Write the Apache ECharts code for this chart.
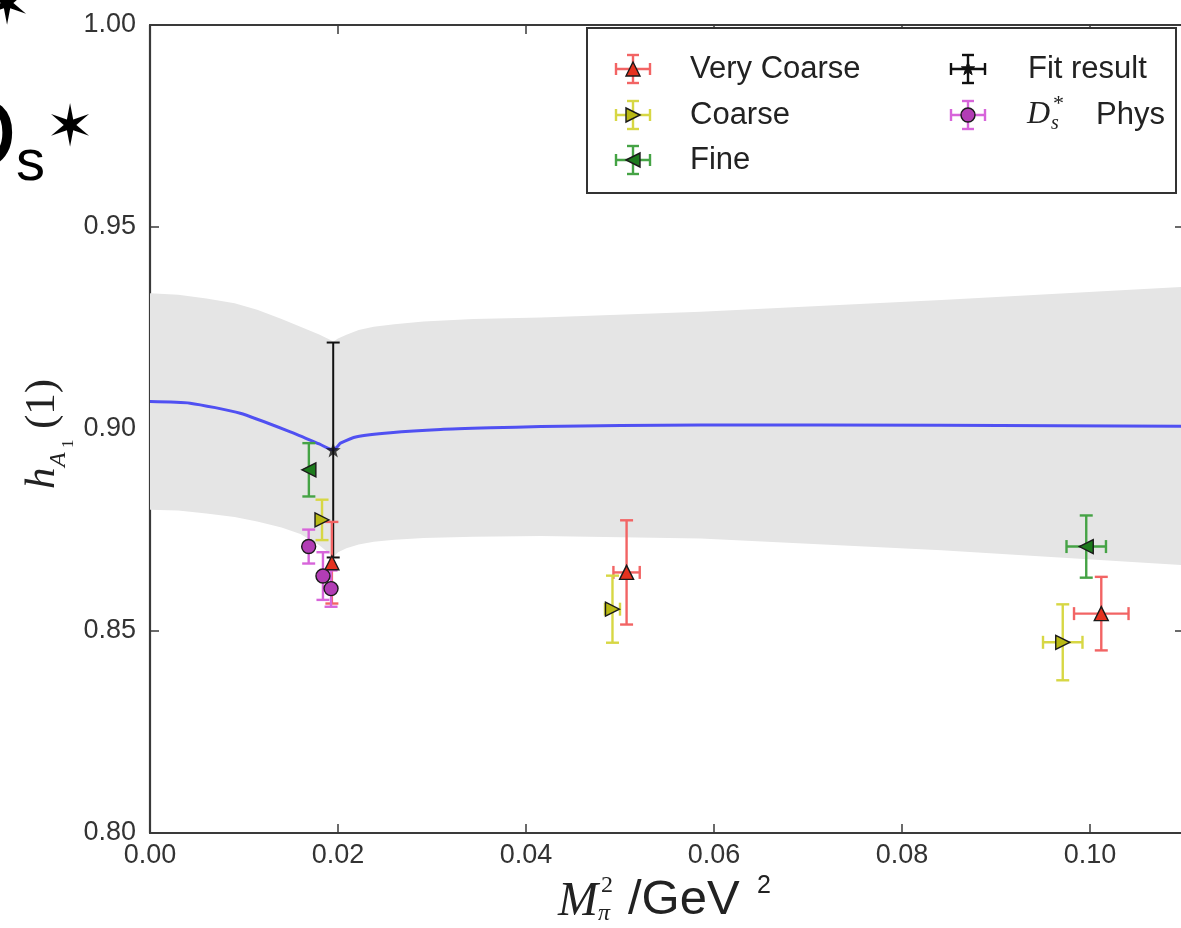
<!DOCTYPE html>
<html><head><meta charset="utf-8">
<script src="https://cdn.jsdelivr.net/npm/echarts@6/dist/echarts.min.js"></script>
<style>html,body{margin:0;padding:0;background:#fff;overflow:hidden}#c{width:1181px;height:928px}</style>
</head><body><div id="c"></div>
<script>
// ---------------- data ----------------
const xTickValues = [0.00, 0.02, 0.04, 0.06, 0.08, 0.10];
const yTickValues = [0.80, 0.85, 0.90, 0.95, 1.00];

// fit curve (blue)
const curveX = [0, 0.00426, 0.00959, 0.01493, 0.0180, 0.01949, 0.0200, 0.02026, 0.0220, 0.02559, 0.03092, 0.03625, 0.04158, 0.0586, 0.0842, 0.11];
const curveY = [0.9068, 0.9064, 0.9039, 0.8993, 0.8963, 0.8948, 0.8958, 0.8965, 0.8981, 0.8991, 0.8999, 0.9003, 0.9006, 0.9010, 0.9009, 0.9007];

// error band (grey)
const bandX     = [0, 0.0030, 0.0060, 0.0090, 0.0114, 0.0140, 0.0160, 0.0180, 0.0192, 0.01949, 0.0200, 0.0209, 0.0222, 0.0238, 0.0260, 0.0291, 0.0344, 0.0416, 0.0586, 0.0842, 0.11];
const bandUpper = [0.9336, 0.9332, 0.9323, 0.9311, 0.9295, 0.9272, 0.9253, 0.9234, 0.9220, 0.9216, 0.9224, 0.9233, 0.9245, 0.9253, 0.9259, 0.9266, 0.9272, 0.9276, 0.9290, 0.9319, 0.9352];
const bandLower = [0.8800, 0.8798, 0.8791, 0.8782, 0.8771, 0.8756, 0.8740, 0.8712, 0.8690, 0.8682, 0.8695, 0.8705, 0.8714, 0.8721, 0.8726, 0.8730, 0.8733, 0.8735, 0.8729, 0.8700, 0.8663];

// Very Coarse
const veryCoarseX    = [0.01935, 0.0507, 0.1012];
const veryCoarseY    = [0.8669, 0.8645, 0.8543];
const veryCoarseXErr = [0, 0.0014, 0.0029];
const veryCoarseYErr = [0.0101, 0.0129, 0.0091];
// Coarse
const coarseX    = [0.0183, 0.0492, 0.0971];
const coarseY    = [0.8775, 0.8554, 0.8472];
const coarseXErr = [0, 0.0008, 0.0021];
const coarseYErr = [0.0050, 0.0083, 0.0094];
// Fine
const fineX    = [0.0169, 0.0996];
const fineY    = [0.8899, 0.8709];
const fineXErr = [0, 0.0021];
const fineYErr = [0.0066, 0.0077];
// D_s* Phys
const physX    = [0.01688, 0.0184, 0.01926];
const physY    = [0.8709, 0.8636, 0.8605];
const physXErr = [0, 0, 0];
const physYErr = [0.0042, 0.0059, 0.0045];
// Fit result
const fitX    = [0.01949];
const fitY    = [0.8948];
const fitXErr = [0];
const fitYErr = [0.0266];

// ---------------- helpers ----------------
const AX = '#3a3a3a';
function zip4(x, y, ex, ey) { return x.map((v, i) => [v, y[i], ex[i], ey[i]]); }
function zip2(x, y) { return x.map((v, i) => [v, y[i]]); }

function errSeries(name, data, color, lw) {
  return {
    type: 'custom', name: name, z: 3, silent: true,
    dimensions: ['x', 'y', 'ex', 'ey'], encode: { x: 0, y: 1 },
    data: data,
    renderItem: function (params, api) {
      const x = api.value(0), y = api.value(1), ex = api.value(2), ey = api.value(3);
      const c = api.coord([x, y]);
      const t = api.coord([x, y + ey]), b = api.coord([x, y - ey]);
      const cap = 6.5;
      const st = { stroke: color, lineWidth: lw || 2.4 };
      const ch = [
        { type: 'line', shape: { x1: c[0], y1: t[1], x2: c[0], y2: b[1] }, style: st },
        { type: 'line', shape: { x1: c[0] - cap, y1: t[1], x2: c[0] + cap, y2: t[1] }, style: st },
        { type: 'line', shape: { x1: c[0] - cap, y1: b[1], x2: c[0] + cap, y2: b[1] }, style: st }
      ];
      if (ex > 0) {
        const l = api.coord([x - ex, y]), r = api.coord([x + ex, y]);
        ch.push({ type: 'line', shape: { x1: l[0], y1: c[1], x2: r[0], y2: c[1] }, style: st });
        ch.push({ type: 'line', shape: { x1: l[0], y1: c[1] - cap, x2: l[0], y2: c[1] + cap }, style: st });
        ch.push({ type: 'line', shape: { x1: r[0], y1: c[1] - cap, x2: r[0], y2: c[1] + cap }, style: st });
      }
      return { type: 'group', children: ch };
    }
  };
}
const STAR = 'path://M0,-10 L2.35,-3.24 L9.51,-3.09 L3.8,1.24 L5.88,8.09 L0,4 L-5.88,8.09 L-3.8,1.24 L-9.51,-3.09 L-2.35,-3.24 Z';
function markerSeries(name, data, symbol, rot, fill, size) {
  return {
    type: 'scatter', name: name, z: 4, silent: true,
    data: data, symbol: symbol, symbolRotate: rot, symbolSize: size || 14,
    itemStyle: { color: fill, borderColor: '#1a1a1a', borderWidth: 1.4, opacity: 1 }
  };
}

const C = {
  vcBar: '#f26464', vcFill: '#e5321f',
  cBar: '#d7d744', cFill: '#b9b914',
  fBar: '#45a345', fFill: '#1c7a1c',
  pBar: '#d765da', pFill: '#b23db5',
  fit: '#111111'
};

// ---------------- legend / titles as graphic ----------------
function mk(type, cx, cy, s, fill) {
  const h = s / 2;
  const st = { fill: fill, stroke: '#1a1a1a', lineWidth: 1.4 };
  if (type === 'up') return { type: 'polygon', shape: { points: [[cx, cy - h], [cx + h, cy + h], [cx - h, cy + h]] }, style: st };
  if (type === 'right') return { type: 'polygon', shape: { points: [[cx + h, cy], [cx - h, cy - h], [cx - h, cy + h]] }, style: st };
  if (type === 'left') return { type: 'polygon', shape: { points: [[cx - h, cy], [cx + h, cy - h], [cx + h, cy + h]] }, style: st };
  if (type === 'circle') return { type: 'circle', shape: { cx: cx, cy: cy, r: h }, style: st };
  const pts = [];
  for (let i = 0; i < 10; i++) {
    const a = -Math.PI / 2 + i * Math.PI / 5, r = (i % 2 ? 0.4 : 1) * h;
    pts.push([cx + r * Math.cos(a), cy + r * Math.sin(a)]);
  }
  return { type: 'polygon', shape: { points: pts }, style: { fill: fill, stroke: fill, lineWidth: 1 } };
}
function legendIcon(cx, cy, bar, type, fill) {
  const hw = 17, hh = 14, cap = 6;
  const st = { stroke: bar, lineWidth: 2.4 };
  return [
    { type: 'line', shape: { x1: cx - hw, y1: cy, x2: cx + hw, y2: cy }, style: st },
    { type: 'line', shape: { x1: cx - hw, y1: cy - cap, x2: cx - hw, y2: cy + cap }, style: st },
    { type: 'line', shape: { x1: cx + hw, y1: cy - cap, x2: cx + hw, y2: cy + cap }, style: st },
    { type: 'line', shape: { x1: cx, y1: cy - hh, x2: cx, y2: cy + hh }, style: st },
    { type: 'line', shape: { x1: cx - cap, y1: cy - hh, x2: cx + cap, y2: cy - hh }, style: st },
    { type: 'line', shape: { x1: cx - cap, y1: cy + hh, x2: cx + cap, y2: cy + hh }, style: st },
    mk(type, cx, cy, 14, fill)
  ];
}
function txt(x, y, text, font, fill, align) {
  return { type: 'text', x: x, y: y, style: { text: text, font: font, fill: fill || '#222', align: align || 'left', verticalAlign: 'middle', textAlign: align || 'left', textVerticalAlign: 'middle' } };
}
function withZ(arr, z) { arr.forEach(e => { e.z = z; }); return arr; }
const SANS = '"Liberation Sans", Arial, sans-serif';
const SERIF = '"Liberation Serif", "DejaVu Serif", serif';
const LF = '31px ' + SANS;

const legendItems = withZ([].concat(
  legendIcon(633, 69, C.vcBar, 'up', C.vcFill),
  legendIcon(633, 115, C.cBar, 'right', C.cFill),
  legendIcon(633, 160, C.fBar, 'left', C.fFill),
  legendIcon(968, 69, C.fit, 'star', C.fit),
  legendIcon(968, 115, C.pBar, 'circle', C.pFill),
  [
    txt(690, 69, 'Very Coarse', LF),
    txt(690, 115, 'Coarse', LF),
    txt(690, 160, 'Fine', LF),
    txt(1028, 69, 'Fit result', LF),
    txt(1027, 115, 'D', 'italic 32px ' + SERIF),
    txt(1051, 124, 's', 'italic 20px ' + SERIF),
    txt(1053, 104, '*', '22px ' + SERIF),
    txt(1096, 115, 'Phys', LF)
  ]), 20);

const graphic = [
  // decorative slide fragments at top-left
  txt(17, 140, 'D', '104px ' + SANS, '#000', 'right'),
  txt(16, 164, 's', '58px ' + SANS, '#000'),
  txt(70, 131, '\u2736', '58px "DejaVu Sans"', '#000', 'center'),
  txt(7, 9, '\u2736', '58px "DejaVu Sans"', '#000', 'center'),
  // legend box
  { type: 'rect', z: 10, shape: { x: 587, y: 28, width: 589, height: 165 }, style: { fill: '#fff', stroke: '#333', lineWidth: 2 } }
].concat(legendItems).concat([
  // x-axis title
  txt(558, 902, 'M', 'italic 48px ' + SERIF, '#222'),
  txt(601, 886, '2', '24px ' + SERIF, '#222'),
  txt(598, 914, '\u03c0', 'italic 24px ' + SERIF, '#222'),
  txt(628, 900, '/GeV', '49px ' + SANS, '#222'),
  txt(757, 886, '2', '25px ' + SANS, '#222'),
  // y-axis title (rotated)
  { type: 'group', x: 46, y: 433, rotation: Math.PI / 2, children: [
      txt(-56, -3, 'h', 'italic 43px ' + SERIF, '#222'),
      txt(-34, 13, 'A', 'italic 24px ' + SERIF, '#222'),
      txt(-15, 23, '1', '17px ' + SERIF, '#222'),
      txt(4, -3, '(1)', '43px ' + SERIF, '#222')
  ] }
]);

// ---------------- chart ----------------
const chart = echarts.init(document.getElementById('c'), null, { renderer: 'canvas' });
const xAxisBase = {
  type: 'value', min: xTickValues[0], max: 0.11, interval: 0.02,
  axisLine: { show: true, onZero: false, lineStyle: { color: AX, width: 2.2 } },
  axisTick: { show: true, inside: true, length: 9, lineStyle: { color: AX, width: 1.5 } },
  splitLine: { show: false }
};
const yAxisBase = {
  type: 'value', min: yTickValues[0], max: yTickValues[yTickValues.length - 1], interval: 0.05,
  axisLine: { show: true, onZero: false, lineStyle: { color: AX, width: 2.2 } },
  axisTick: { show: true, inside: true, length: 9, lineStyle: { color: AX, width: 1.5 } },
  splitLine: { show: false }
};
const option = {
  animation: false,
  backgroundColor: '#fff',
  grid: { left: 150, top: 25, width: 1034, height: 808, outerBoundsMode: 'none', containLabel: false },
  xAxis: [
    Object.assign({}, xAxisBase, { position: 'bottom',
      axisLabel: { fontFamily: SANS, fontSize: 27, color: '#333', margin: 9,
        formatter: v => (xTickValues.some(t => Math.abs(t - v) < 1e-9) ? v.toFixed(2) : '') } }),
    Object.assign({}, xAxisBase, { position: 'top', axisLabel: { show: false } })
  ],
  yAxis: [
    Object.assign({}, yAxisBase, { position: 'left',
      axisLabel: { fontFamily: SANS, fontSize: 27, color: '#333', margin: 14, formatter: v => v.toFixed(2) } }),
    Object.assign({}, yAxisBase, { position: 'right', axisLabel: { show: false } })
  ],
  graphic: graphic,
  series: [
    {
      type: 'custom', name: 'band', z: 1, silent: true,
      data: [[bandX[0], bandLower[0]]], encode: { x: 0, y: 1 },
      renderItem: function (params, api) {
        const pts = [];
        for (let i = 0; i < bandX.length; i++) pts.push(api.coord([bandX[i], bandUpper[i]]));
        for (let i = bandX.length - 1; i >= 0; i--) pts.push(api.coord([bandX[i], bandLower[i]]));
        return { type: 'polygon', shape: { points: pts }, style: { fill: '#e5e5e5' } };
      }
    },
    {
      type: 'line', name: 'fit curve', z: 2, silent: true, showSymbol: false, smooth: 0.2,
      data: zip2(curveX, curveY), lineStyle: { color: '#5050f2', width: 3 }
    },
    errSeries('Fit result err', zip4(fitX, fitY, fitXErr, fitYErr), C.fit, 2),
    errSeries('Very Coarse err', zip4(veryCoarseX, veryCoarseY, veryCoarseXErr, veryCoarseYErr), C.vcBar),
    errSeries('Coarse err', zip4(coarseX, coarseY, coarseXErr, coarseYErr), C.cBar),
    errSeries('Fine err', zip4(fineX, fineY, fineXErr, fineYErr), C.fBar),
    errSeries('Phys err', zip4(physX, physY, physXErr, physYErr), C.pBar),
    markerSeries('Very Coarse', zip2(veryCoarseX, veryCoarseY), 'triangle', 0, C.vcFill, 14),
    markerSeries('Coarse', zip2(coarseX, coarseY), 'triangle', -90, C.cFill, 14),
    markerSeries('Fine', zip2(fineX, fineY), 'triangle', 90, C.fFill, 14),
    markerSeries('D_s* Phys', zip2(physX, physY), 'circle', 0, C.pFill, 14),
    {
      type: 'scatter', name: 'Fit result', z: 4, silent: true,
      data: zip2(fitX, fitY), symbol: STAR, symbolSize: 15,
      itemStyle: { color: C.fit }
    }
  ]
};
chart.setOption(option);
</script>
</body></html>
